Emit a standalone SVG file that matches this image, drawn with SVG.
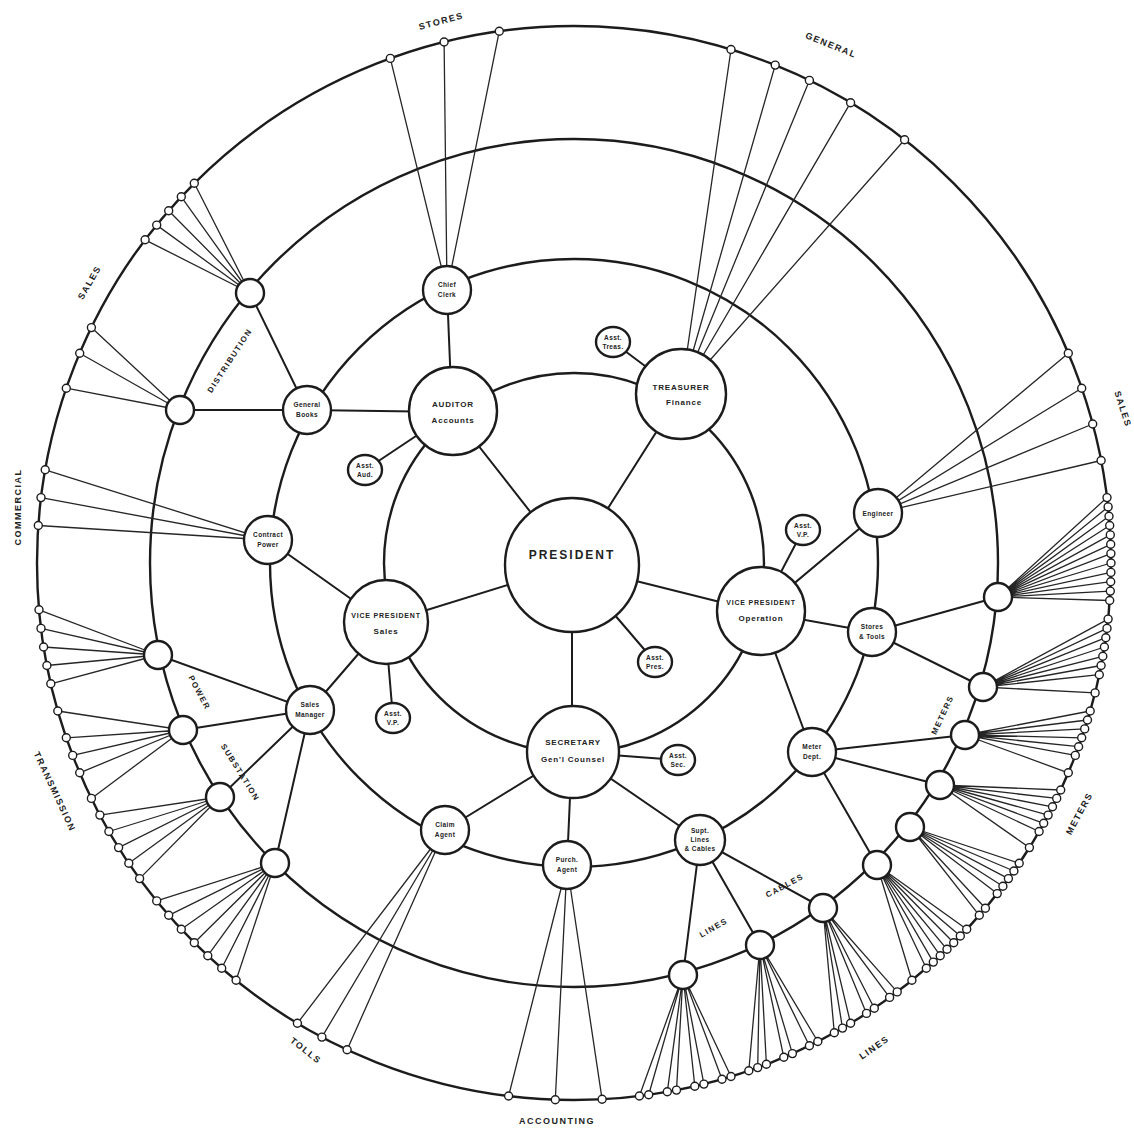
<svg xmlns="http://www.w3.org/2000/svg" width="1134" height="1130" viewBox="0 0 1134 1130">
<style>
.ring{fill:none;stroke:#1c1c1c;stroke-width:2.4}
.c{stroke:#1c1c1c;stroke-width:2;fill:none}
.f{stroke:#262626;stroke-width:1.3;fill:none}
.n{fill:#fff;stroke:#1c1c1c;stroke-width:2.4}
.e{fill:#fff;stroke:#1c1c1c;stroke-width:1.4}
text{font-family:"Liberation Sans",Arial,sans-serif;font-weight:bold;fill:#222;text-anchor:middle}
.t1{font-size:8px;letter-spacing:0.8px}
.t2{font-size:6.5px;letter-spacing:0.4px}
.lb{font-size:9px;letter-spacing:1.5px}
</style>
<rect width="1134" height="1130" fill="#fff"/>
<g id="rings">
<circle class="ring" cx="574" cy="563" r="537"/>
<circle class="ring" cx="574" cy="563" r="424"/>
<circle class="ring" cx="574" cy="563" r="304"/>
<circle class="ring" cx="574" cy="563" r="190"/>
</g>
<g id="connectors">
<path class="c" d="M572 565L452 412M572 565L681 393M572 565L385 623M572 565L760 612M572 565L572 752M572 565L655 662
M452 412L365 470M452 412L447 290M452 412L307 410M681 393L613 342
M385 623L268 540M385 623L310 710M385 623L393 718
M760 612L803 530M760 612L872 632M760 612L878 513M760 612L812 752
M572 752L445 830M572 752L567 865M572 752L700 840M572 752L678 760
M307 410L250 293M307 410L180 410
M310 710L158 655M310 710L183 730M310 710L220 797M310 710L275 863
M700 840L683 975M700 840L760 945M700 840L823 908
M812 752L877 865M812 752L940 785M812 752L965 735
M872 632L998 597M872 632L983 687"/>
<path class="f" d="M250 293L145.1 239.8M250 293L156.7 225.1M250 293L168.7 210.7M250 293L181.3 196.8M250 293L194.3 183.3
M180 410L66.3 388.2M180 410L79.7 353.2M180 410L91.4 327.6
M268 540L38.3 525.5M268 540L41 497.6M268 540L45.2 469.8
M158 655L50.8 683.8M158 655L46.9 665.5M158 655L43.6 647M158 655L41 628.4M158 655L39 609.8
M183 730L91.4 798.4M183 730L79.7 772.8M183 730L72.7 755.4M183 730L66.3 737.8M183 730L57.8 711
M220 797L139.6 878.6M220 797L128.8 863.3M220 797L118.6 847.6M220 797L108.9 831.5M220 797L99.9 815.1
M275 863L236.1 980.3M275 863L221.7 968.3M275 863L207.8 955.7M275 863L194.3 942.7M275 863L181.3 929.2M275 863L168.7 915.3M275 863L156.7 900.9
M445 830L347.1 1049.7M445 830L321.9 1037.1M445 830L297.4 1023.3
M567 865L602.1 1099.3M567 865L555.3 1099.7M567 865L508.6 1096
M683 975L731 1076.5M683 975L722 1079.2M683 975L703.9 1084.1M683 975L694.8 1086.2M683 975L676.5 1090.1M683 975L667.3 1091.8M683 975L648.7 1094.8M683 975L639.4 1096
M760 945L817.8 1041.5M760 945L809.4 1045.7M760 945L792.4 1053.6M760 945L783.8 1057.3M760 945L766.4 1064.3M760 945L757.7 1067.6M760 945L748.8 1070.7
M823 908L897.2 991.9M823 908L889.6 997.4M823 908L874.3 1008.2M823 908L866.5 1013.4M823 908L850.6 1023.3M823 908L842.5 1028.1M823 908L834.3 1032.7
M877 865L966.7 929.2M877 865L960.3 936M877 865L953.7 942.7M877 865L947 949.3M877 865L940.2 955.7M877 865L933.3 962.1M877 865L926.3 968.3M877 865L911.9 980.3
M910 827L1019.2 863.3M910 827L1013.9 871M910 827L1008.4 878.6M910 827L1002.9 886.2M910 827L997.2 893.6M910 827L985.4 908.2M910 827L979.3 915.3
M940 785L1060.7 790M940 785L1056.7 798.4M940 785L1052.5 806.8M940 785L1048.1 815.1M940 785L1043.7 823.3M940 785L1039.1 831.5M940 785L1029.4 847.6
M965 735L1090.2 711M965 735L1087.5 720M965 735L1084.7 728.9M965 735L1081.7 737.8M965 735L1078.6 746.7M965 735L1075.3 755.4M965 735L1068.3 772.8
M983 687L1108.1 619.1M983 687L1107 628.4M983 687L1105.8 637.7M983 687L1104.4 647M983 687L1102.8 656.3M983 687L1101.1 665.5M983 687L1099.3 674.7M983 687L1095.1 692.9
M998 597L1107 497.6M998 597L1108.1 506.9M998 597L1109 516.2M998 597L1109.7 525.5M998 597L1110.3 534.9M998 597L1110.7 544.3M998 597L1110.9 553.6M998 597L1111 563M998 597L1110.9 572.4M998 597L1110.7 581.7M998 597L1110.3 591.1M998 597L1109.7 600.5
M878 513L1068.3 353.2M878 513L1081.7 388.2M878 513L1092.7 424M878 513L1101.1 460.5
M681 393L731 49.5M681 393L775.2 65.1M681 393L809.4 80.4M681 393L850.6 102.7M681 393L904.6 139.8
M447 290L390.3 58.4M447 290L444.1 42M447 290L499.3 31.2"/>
</g>
<g id="terminals">
<circle class="e" cx="145.1" cy="239.8" r="4"/><circle class="e" cx="156.7" cy="225.1" r="4"/><circle class="e" cx="168.7" cy="210.7" r="4"/><circle class="e" cx="181.3" cy="196.8" r="4"/><circle class="e" cx="194.3" cy="183.3" r="4"/>
<circle class="e" cx="66.3" cy="388.2" r="4"/><circle class="e" cx="79.7" cy="353.2" r="4"/><circle class="e" cx="91.4" cy="327.6" r="4"/>
<circle class="e" cx="38.3" cy="525.5" r="4"/><circle class="e" cx="41" cy="497.6" r="4"/><circle class="e" cx="45.2" cy="469.8" r="4"/>
<circle class="e" cx="50.8" cy="683.8" r="4"/><circle class="e" cx="46.9" cy="665.5" r="4"/><circle class="e" cx="43.6" cy="647" r="4"/><circle class="e" cx="41" cy="628.4" r="4"/><circle class="e" cx="39" cy="609.8" r="4"/>
<circle class="e" cx="91.4" cy="798.4" r="4"/><circle class="e" cx="79.7" cy="772.8" r="4"/><circle class="e" cx="72.7" cy="755.4" r="4"/><circle class="e" cx="66.3" cy="737.8" r="4"/><circle class="e" cx="57.8" cy="711" r="4"/>
<circle class="e" cx="139.6" cy="878.6" r="4"/><circle class="e" cx="128.8" cy="863.3" r="4"/><circle class="e" cx="118.6" cy="847.6" r="4"/><circle class="e" cx="108.9" cy="831.5" r="4"/><circle class="e" cx="99.9" cy="815.1" r="4"/>
<circle class="e" cx="236.1" cy="980.3" r="4"/><circle class="e" cx="221.7" cy="968.3" r="4"/><circle class="e" cx="207.8" cy="955.7" r="4"/><circle class="e" cx="194.3" cy="942.7" r="4"/><circle class="e" cx="181.3" cy="929.2" r="4"/><circle class="e" cx="168.7" cy="915.3" r="4"/><circle class="e" cx="156.7" cy="900.9" r="4"/>
<circle class="e" cx="347.1" cy="1049.7" r="4"/><circle class="e" cx="321.9" cy="1037.1" r="4"/><circle class="e" cx="297.4" cy="1023.3" r="4"/>
<circle class="e" cx="602.1" cy="1099.3" r="4"/><circle class="e" cx="555.3" cy="1099.7" r="4"/><circle class="e" cx="508.6" cy="1096" r="4"/>
<circle class="e" cx="731" cy="1076.5" r="4"/><circle class="e" cx="722" cy="1079.2" r="4"/><circle class="e" cx="703.9" cy="1084.1" r="4"/><circle class="e" cx="694.8" cy="1086.2" r="4"/><circle class="e" cx="676.5" cy="1090.1" r="4"/><circle class="e" cx="667.3" cy="1091.8" r="4"/><circle class="e" cx="648.7" cy="1094.8" r="4"/><circle class="e" cx="639.4" cy="1096" r="4"/>
<circle class="e" cx="817.8" cy="1041.5" r="4"/><circle class="e" cx="809.4" cy="1045.7" r="4"/><circle class="e" cx="792.4" cy="1053.6" r="4"/><circle class="e" cx="783.8" cy="1057.3" r="4"/><circle class="e" cx="766.4" cy="1064.3" r="4"/><circle class="e" cx="757.7" cy="1067.6" r="4"/><circle class="e" cx="748.8" cy="1070.7" r="4"/>
<circle class="e" cx="897.2" cy="991.9" r="4"/><circle class="e" cx="889.6" cy="997.4" r="4"/><circle class="e" cx="874.3" cy="1008.2" r="4"/><circle class="e" cx="866.5" cy="1013.4" r="4"/><circle class="e" cx="850.6" cy="1023.3" r="4"/><circle class="e" cx="842.5" cy="1028.1" r="4"/><circle class="e" cx="834.3" cy="1032.7" r="4"/>
<circle class="e" cx="966.7" cy="929.2" r="4"/><circle class="e" cx="960.3" cy="936" r="4"/><circle class="e" cx="953.7" cy="942.7" r="4"/><circle class="e" cx="947" cy="949.3" r="4"/><circle class="e" cx="940.2" cy="955.7" r="4"/><circle class="e" cx="933.3" cy="962.1" r="4"/><circle class="e" cx="926.3" cy="968.3" r="4"/><circle class="e" cx="911.9" cy="980.3" r="4"/>
<circle class="e" cx="1019.2" cy="863.3" r="4"/><circle class="e" cx="1013.9" cy="871" r="4"/><circle class="e" cx="1008.4" cy="878.6" r="4"/><circle class="e" cx="1002.9" cy="886.2" r="4"/><circle class="e" cx="997.2" cy="893.6" r="4"/><circle class="e" cx="985.4" cy="908.2" r="4"/><circle class="e" cx="979.3" cy="915.3" r="4"/>
<circle class="e" cx="1060.7" cy="790" r="4"/><circle class="e" cx="1056.7" cy="798.4" r="4"/><circle class="e" cx="1052.5" cy="806.8" r="4"/><circle class="e" cx="1048.1" cy="815.1" r="4"/><circle class="e" cx="1043.7" cy="823.3" r="4"/><circle class="e" cx="1039.1" cy="831.5" r="4"/><circle class="e" cx="1029.4" cy="847.6" r="4"/>
<circle class="e" cx="1090.2" cy="711" r="4"/><circle class="e" cx="1087.5" cy="720" r="4"/><circle class="e" cx="1084.7" cy="728.9" r="4"/><circle class="e" cx="1081.7" cy="737.8" r="4"/><circle class="e" cx="1078.6" cy="746.7" r="4"/><circle class="e" cx="1075.3" cy="755.4" r="4"/><circle class="e" cx="1068.3" cy="772.8" r="4"/>
<circle class="e" cx="1108.1" cy="619.1" r="4"/><circle class="e" cx="1107" cy="628.4" r="4"/><circle class="e" cx="1105.8" cy="637.7" r="4"/><circle class="e" cx="1104.4" cy="647" r="4"/><circle class="e" cx="1102.8" cy="656.3" r="4"/><circle class="e" cx="1101.1" cy="665.5" r="4"/><circle class="e" cx="1099.3" cy="674.7" r="4"/><circle class="e" cx="1095.1" cy="692.9" r="4"/>
<circle class="e" cx="1107" cy="497.6" r="4"/><circle class="e" cx="1108.1" cy="506.9" r="4"/><circle class="e" cx="1109" cy="516.2" r="4"/><circle class="e" cx="1109.7" cy="525.5" r="4"/><circle class="e" cx="1110.3" cy="534.9" r="4"/><circle class="e" cx="1110.7" cy="544.3" r="4"/><circle class="e" cx="1110.9" cy="553.6" r="4"/><circle class="e" cx="1111" cy="563" r="4"/><circle class="e" cx="1110.9" cy="572.4" r="4"/><circle class="e" cx="1110.7" cy="581.7" r="4"/><circle class="e" cx="1110.3" cy="591.1" r="4"/><circle class="e" cx="1109.7" cy="600.5" r="4"/>
<circle class="e" cx="1068.3" cy="353.2" r="4"/><circle class="e" cx="1081.7" cy="388.2" r="4"/><circle class="e" cx="1092.7" cy="424" r="4"/><circle class="e" cx="1101.1" cy="460.5" r="4"/>
<circle class="e" cx="731" cy="49.5" r="4"/><circle class="e" cx="775.2" cy="65.1" r="4"/><circle class="e" cx="809.4" cy="80.4" r="4"/><circle class="e" cx="850.6" cy="102.7" r="4"/><circle class="e" cx="904.6" cy="139.8" r="4"/>
<circle class="e" cx="390.3" cy="58.4" r="4"/><circle class="e" cx="444.1" cy="42" r="4"/><circle class="e" cx="499.3" cy="31.2" r="4"/>
</g>
<g id="president"><circle class="n" cx="572" cy="565" r="67"/><text x="572" y="559" style="font-size:12px;letter-spacing:2px">PRESIDENT</text></g>
<g id="auditor"><circle class="n" cx="453" cy="411" r="44"/><text class="t1" x="453" y="407">AUDITOR</text><text class="t1" x="453" y="423">Accounts</text></g>
<g id="treasurer"><circle class="n" cx="681" cy="394" r="45"/><text class="t1" x="681" y="390">TREASURER</text><text class="t1" x="684" y="405">Finance</text></g>
<g id="vp-sales"><circle class="n" cx="386" cy="622" r="42"/><text class="t1" x="386" y="618" style="font-size:7px">VICE PRESIDENT</text><text class="t1" x="386" y="634">Sales</text></g>
<g id="vp-operation"><circle class="n" cx="761" cy="611" r="44"/><text class="t1" x="761" y="605" style="font-size:7px">VICE PRESIDENT</text><text class="t1" x="761" y="621">Operation</text></g>
<g id="secretary"><circle class="n" cx="573" cy="752" r="46"/><text class="t1" x="573" y="745">SECRETARY</text><text class="t1" x="573" y="762">Gen'l Counsel</text></g>
<g id="s1"><ellipse class="n" cx="613" cy="342" rx="17" ry="15"/><text class="t2" x="613" y="340">Asst.</text><text class="t2" x="613" y="349">Treas.</text></g>
<g id="s2"><ellipse class="n" cx="365" cy="470" rx="17" ry="15"/><text class="t2" x="365" y="468">Asst.</text><text class="t2" x="365" y="477">Aud.</text></g>
<g id="s3"><ellipse class="n" cx="655" cy="662" rx="17" ry="15"/><text class="t2" x="655" y="660">Asst.</text><text class="t2" x="655" y="669">Pres.</text></g>
<g id="s4"><ellipse class="n" cx="393" cy="718" rx="17" ry="15"/><text class="t2" x="393" y="716">Asst.</text><text class="t2" x="393" y="725">V.P.</text></g>
<g id="s5"><ellipse class="n" cx="803" cy="530" rx="17" ry="15"/><text class="t2" x="803" y="528">Asst.</text><text class="t2" x="803" y="537">V.P.</text></g>
<g id="s6"><ellipse class="n" cx="678" cy="760" rx="17" ry="15"/><text class="t2" x="678" y="758">Asst.</text><text class="t2" x="678" y="767">Sec.</text></g>
<g id="t1"><circle class="n" cx="447" cy="290" r="24"/><text class="t2" x="447" y="287">Chief</text><text class="t2" x="447" y="297">Clerk</text></g>
<g id="t2"><circle class="n" cx="307" cy="410" r="24"/><text class="t2" x="307" y="407">General</text><text class="t2" x="307" y="417">Books</text></g>
<g id="t3"><circle class="n" cx="268" cy="540" r="24"/><text class="t2" x="268" y="537">Contract</text><text class="t2" x="268" y="547">Power</text></g>
<g id="t4"><circle class="n" cx="310" cy="710" r="24"/><text class="t2" x="310" y="707">Sales</text><text class="t2" x="310" y="717">Manager</text></g>
<g id="t5"><circle class="n" cx="445" cy="830" r="24"/><text class="t2" x="445" y="827">Claim</text><text class="t2" x="445" y="837">Agent</text></g>
<g id="t6"><circle class="n" cx="567" cy="865" r="24"/><text class="t2" x="567" y="862">Purch.</text><text class="t2" x="567" y="872">Agent</text></g>
<g id="t7"><circle class="n" cx="700" cy="840" r="25"/><text class="t2" x="700" y="833">Supt.</text><text class="t2" x="700" y="842">Lines</text><text class="t2" x="700" y="851">&amp; Cables</text></g>
<g id="t8"><circle class="n" cx="812" cy="752" r="24"/><text class="t2" x="812" y="749">Meter</text><text class="t2" x="812" y="759">Dept.</text></g>
<g id="t9"><circle class="n" cx="872" cy="632" r="24"/><text class="t2" x="872" y="629">Stores</text><text class="t2" x="872" y="639">&amp; Tools</text></g>
<g id="t10"><circle class="n" cx="878" cy="513" r="24"/><text class="t2" x="878" y="516">Engineer</text></g>
<g id="u1"><circle class="n" cx="250" cy="293" r="14"/></g>
<g id="u2"><circle class="n" cx="180" cy="410" r="14"/></g>
<g id="u3"><circle class="n" cx="158" cy="655" r="14"/></g>
<g id="u4"><circle class="n" cx="183" cy="730" r="14"/></g>
<g id="u5"><circle class="n" cx="220" cy="797" r="14"/></g>
<g id="u6"><circle class="n" cx="275" cy="863" r="14"/></g>
<g id="u7"><circle class="n" cx="683" cy="975" r="14"/></g>
<g id="u8"><circle class="n" cx="760" cy="945" r="14"/></g>
<g id="u9"><circle class="n" cx="823" cy="908" r="14"/></g>
<g id="u10"><circle class="n" cx="877" cy="865" r="14"/></g>
<g id="u11"><circle class="n" cx="910" cy="827" r="14"/></g>
<g id="u12"><circle class="n" cx="940" cy="785" r="14"/></g>
<g id="u13"><circle class="n" cx="965" cy="735" r="14"/></g>
<g id="u14"><circle class="n" cx="983" cy="687" r="14"/></g>
<g id="u15"><circle class="n" cx="998" cy="597" r="14"/></g>
<g id="labels">
<text class="lb" transform="translate(442,24) rotate(-15)">STORES</text>
<text class="lb" transform="translate(830,48) rotate(22)">GENERAL</text>
<text class="lb" transform="translate(1120,410) rotate(72)">SALES</text>
<text class="lb" transform="translate(1082,815) rotate(-62)">METERS</text>
<text class="lb" transform="translate(876,1050) rotate(-35)">LINES</text>
<text class="lb" x="557" y="1124">ACCOUNTING</text>
<text class="lb" transform="translate(304,1053) rotate(38)">TOLLS</text>
<text class="lb" transform="translate(52,793) rotate(65)">TRANSMISSION</text>
<text class="lb" transform="translate(21,507) rotate(-90)">COMMERCIAL</text>
<text class="lb" transform="translate(92,284) rotate(-60)">SALES</text>
<text class="lb" style="font-size:8px" transform="translate(232,362) rotate(-57)">DISTRIBUTION</text>
<text class="lb" style="font-size:8px" transform="translate(197,694) rotate(62)">POWER</text>
<text class="lb" style="font-size:8px" transform="translate(238,774) rotate(58)">SUBSTATION</text>
<text class="lb" style="font-size:8px" transform="translate(945,716) rotate(-65)">METERS</text>
<text class="lb" style="font-size:8px" transform="translate(715,930) rotate(-30)">LINES</text>
<text class="lb" style="font-size:8px" transform="translate(786,888) rotate(-28)">CABLES</text>
</g>
</svg>
